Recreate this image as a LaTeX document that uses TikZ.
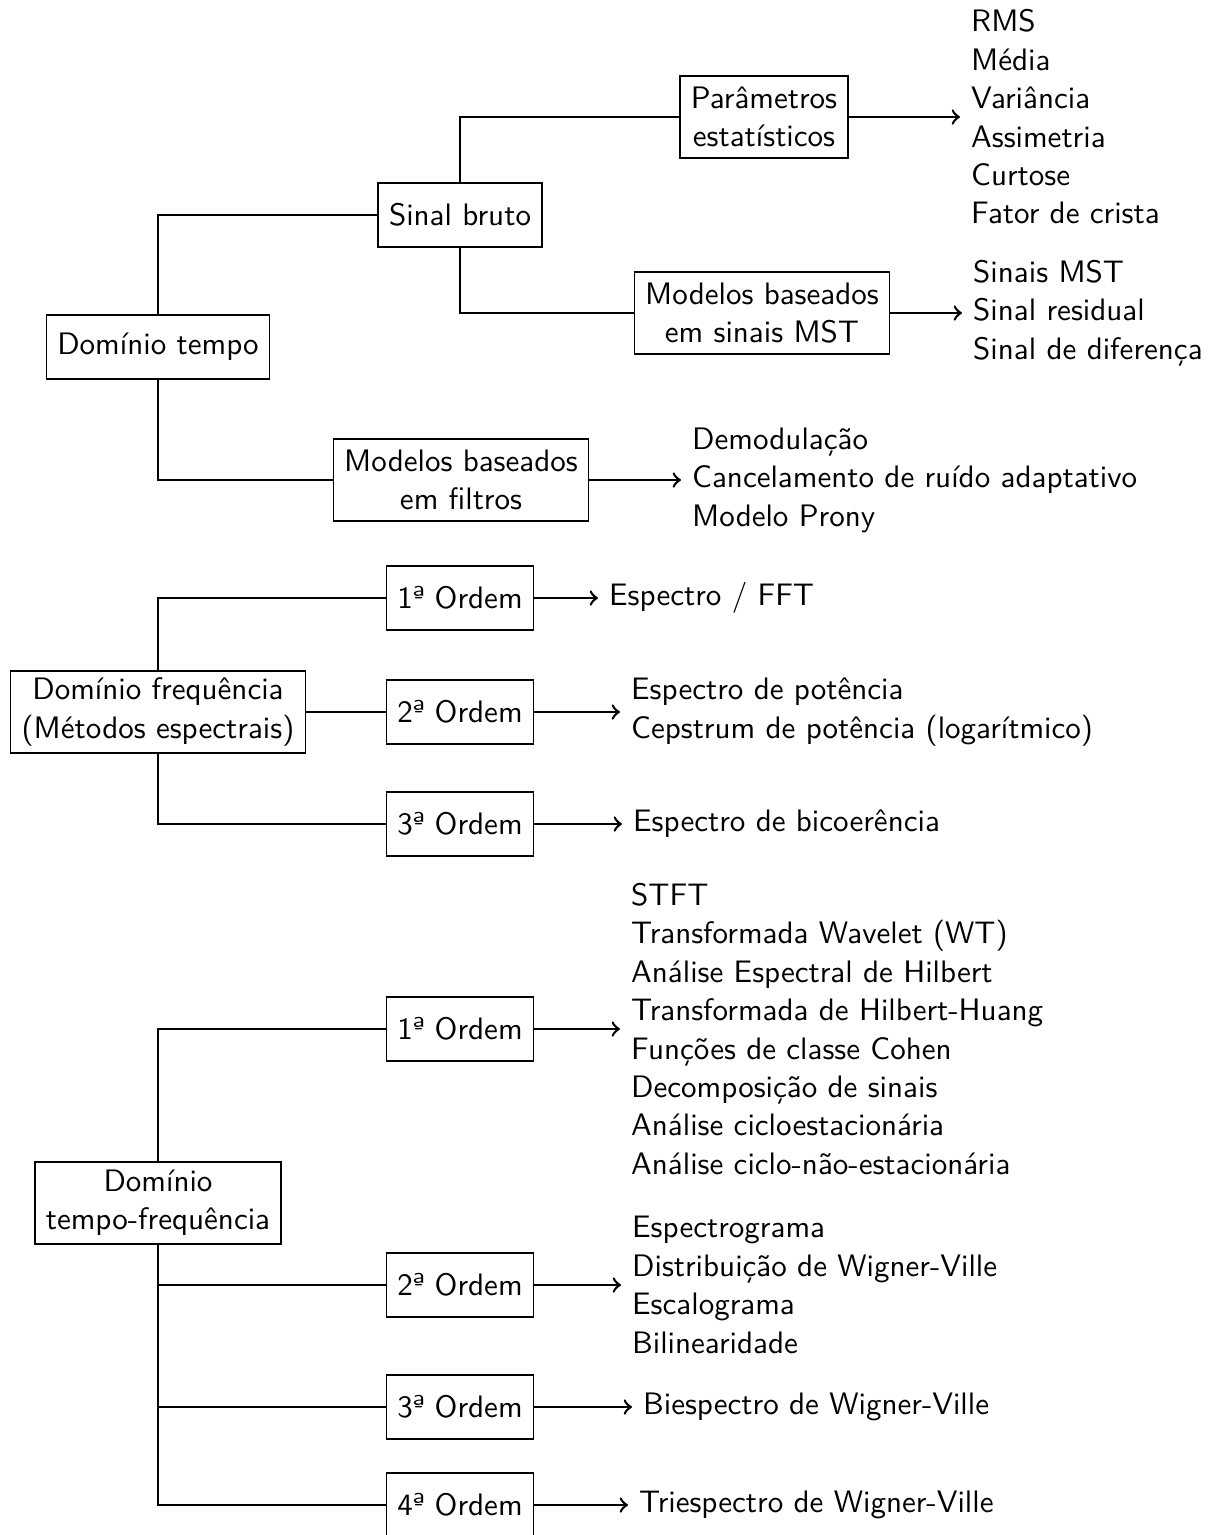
\documentclass[tikz,border=0pt]{standalone}
\usepackage{fontspec}
\begin{document}
\begin{tikzpicture}[x=0.3125pt,y=-0.3125pt,
  font=\sffamily\fontsize{9.7pt}{12pt}\selectfont,
  box/.style={draw,thin,align=center,inner xsep=3.4pt,inner ysep=1.5pt,minimum height=20pt},
  boxtwo/.style={box,minimum height=25.6pt},
  lst/.style={anchor=west,align=left,inner sep=3.3pt},
  conn/.style={thick},
  arr/.style={thick,->}]
\useasboundingbox (0,0) rectangle (1216,1535);

% ---- time domain
\node[box] (dt) at (158,347) {Domínio tempo};
\node[box] (sb) at (460,215) {Sinal bruto};
\node[boxtwo] (pe) at (764,117) {Parâmetros\\estatísticos};
\node[boxtwo] (mst) at (762,313) {Modelos baseados\\em sinais MST};
\node[boxtwo] (mf) at (461,480) {Modelos baseados\\em filtros};

\draw[conn] (dt.north) |- (sb.west);
\draw[conn] (sb.north) |- (pe.west);
\draw[conn] (sb.south) |- (mst.west);
\draw[conn] (dt.south) |- (mf.west);

\coordinate (pea) at (960,117);
\coordinate (msta) at (962,313);
\coordinate (mfa) at (681,480);
\draw[arr] (pe.east) -- (pea);
\draw[arr] (mst.east) -- (msta);
\draw[arr] (mf.east) -- (mfa);
\node[lst] (lpe) at (pea) {RMS\\Média\\Variância\\Assimetria\\Curtose\\Fator de crista};
\node[lst] (lmst) at (msta) {Sinais MST\\Sinal residual\\Sinal de diferença};
\node[lst] (lmf) at (mfa) {Demodulação\\Cancelamento de ruído adaptativo\\Modelo Prony};

% ---- frequency domain
\node[boxtwo] (df) at (158,712) {Domínio frequência\\(Métodos espectrais)};
\node[box] (f1) at (460,598) {1ª Ordem};
\node[box] (f2) at (460,712) {2ª Ordem};
\node[box] (f3) at (460,824) {3ª Ordem};
\draw[conn] (df.north) |- (f1.west);
\draw[conn] (df.east) -- (f2.west);
\draw[conn] (df.south) |- (f3.west);
\coordinate (f1a) at (598,598);
\coordinate (f2a) at (620,712);
\coordinate (f3a) at (622,824);
\draw[arr] (f1.east) -- (f1a);
\draw[arr] (f2.east) -- (f2a);
\draw[arr] (f3.east) -- (f3a);
\node[lst] (lf1) at (f1a) {Espectro / FFT};
\node[lst] (lf2) at (f2a) {Espectro de potência\\Cepstrum de potência (logarítmico)};
\node[lst] (lf3) at (f3a) {Espectro de bicoerência};

% ---- time-frequency domain
\node[boxtwo] (dtf) at (158,1203) {Domínio\\tempo-frequência};
\node[box] (t1) at (460,1029) {1ª Ordem};
\node[box] (t2) at (460,1285) {2ª Ordem};
\node[box] (t3) at (460,1407) {3ª Ordem};
\node[box] (t4) at (460,1505) {4ª Ordem};
\draw[conn] (dtf.north) |- (t1.west);
\draw[conn] (dtf.south) |- (t4.west);
\draw[conn] (dtf.south |- t2.west) -- (t2.west);
\draw[conn] (dtf.south |- t3.west) -- (t3.west);
\coordinate (t1a) at (620,1029);
\coordinate (t2a) at (621,1285);
\coordinate (t3a) at (632,1407);
\coordinate (t4a) at (628,1505);
\draw[arr] (t1.east) -- (t1a);
\draw[arr] (t2.east) -- (t2a);
\draw[arr] (t3.east) -- (t3a);
\draw[arr] (t4.east) -- (t4a);
\node[lst] (lt1) at (t1a) {STFT\\Transformada Wavelet (WT)\\Análise Espectral de Hilbert\\Transformada de Hilbert-Huang\\Funções de classe Cohen\\Decomposição de sinais\\Análise cicloestacionária\\Análise ciclo-não-estacionária};
\node[lst] (lt2) at (t2a) {Espectrograma\\Distribuição de Wigner-Ville\\Escalograma\\Bilinearidade};
\node[lst] (lt3) at (t3a) {Biespectro de Wigner-Ville};
\node[lst] (lt4) at (t4a) {Triespectro de Wigner-Ville};
\end{tikzpicture}
\end{document}
